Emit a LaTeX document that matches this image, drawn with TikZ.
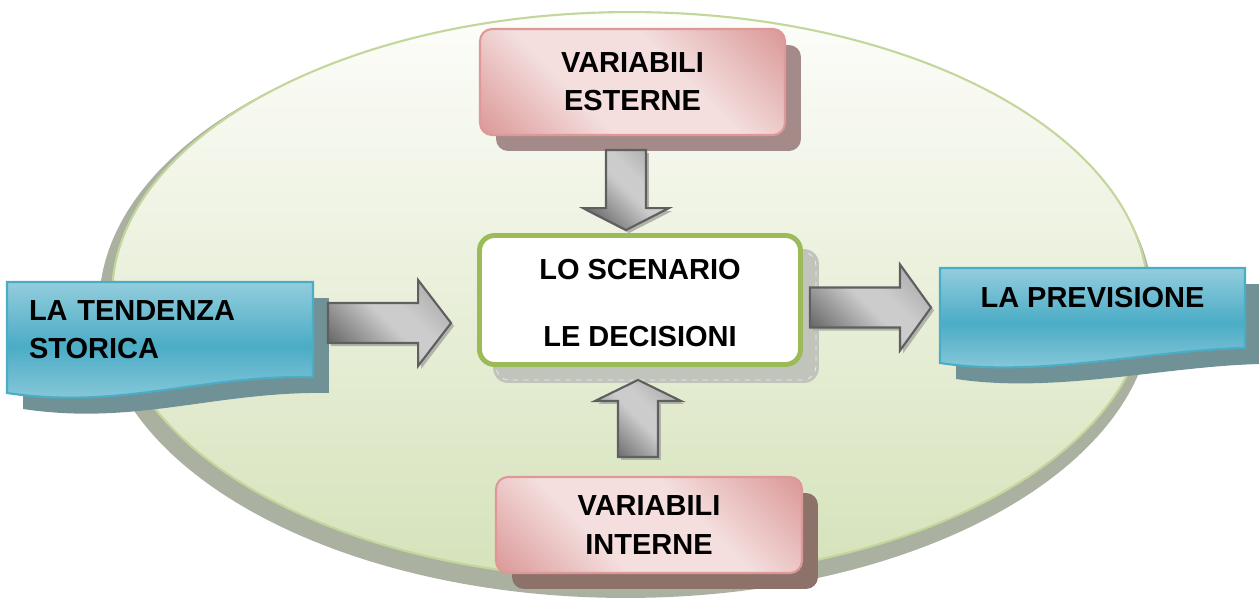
\documentclass[tikz,border=0pt]{standalone}
\usepackage{fontspec}
\setmainfont{Liberation Sans}
\usetikzlibrary{calc,shadows}

% palette
\definecolor{ellTop}{RGB}{253,253,250}
\definecolor{ellBot}{RGB}{213,226,186}
\definecolor{ellLine}{RGB}{195,214,155}
\definecolor{ellShadow}{RGB}{170,177,160}
\definecolor{pkLight}{RGB}{244,222,222}
\definecolor{pkDark}{RGB}{217,150,148}
\definecolor{pkLine}{RGB}{222,152,152}
\definecolor{pkShadowA}{RGB}{165,138,138}
\definecolor{pkShadowB}{RGB}{140,114,104}
\definecolor{blLight}{RGB}{147,205,221}
\definecolor{blDark}{RGB}{75,172,198}
\definecolor{blShadow}{RGB}{112,146,150}
\definecolor{grLine}{RGB}{155,187,89}
\definecolor{ctShadow}{RGB}{192,196,186}
\definecolor{arLight}{RGB}{204,204,204}
\definecolor{arMid}{RGB}{150,150,150}
\definecolor{arDark}{RGB}{100,100,100}
\definecolor{arLine}{RGB}{95,95,95}
\definecolor{arShadow}{RGB}{178,180,172}

% fills
\pgfdeclareverticalshading{bluewave}{100bp}{color(0bp)=(blLight); color(25bp)=(blLight); color(50bp)=(blDark); color(75bp)=(blLight); color(100bp)=(blLight)}
\pgfdeclarehorizontalshading{pinkband}{100bp}{color(0bp)=(pkDark); color(14bp)=(pkDark); color(38bp)=(pkLight); color(60bp)=(pkLight); color(86bp)=(pkDark); color(100bp)=(pkDark)}
\pgfdeclarehorizontalshading{arrowband}{100bp}{color(0bp)=(arDark); color(22bp)=(arDark); color(50bp)=(arLight); color(60bp)=(arLight); color(90bp)=(arMid); color(100bp)=(arMid)}

\pgfdeclarelayer{ellipselayer}
\pgfdeclarelayer{wavelayer}
\pgfsetlayers{ellipselayer,wavelayer,main}

\newcommand\boxfont{\fontsize{16.5}{21.5}\selectfont\bfseries}

\tikzset{
  lbl/.style={font=\boxfont, text=black, align=center, inner sep=0pt},
  pinkbox/.style={lbl, draw=pkLine, line width=1.2pt, rounded corners=0.24cm,
    shading=pinkband, shading angle=45},
  wavefill/.style={draw=blDark, line width=1.2pt, shading=bluewave,
    drop shadow={shadow xshift=0.32cm, shadow yshift=-0.32cm, fill=blShadow, opacity=1}},
  arrowbody/.style={draw=arLine, line width=1.2pt, line join=miter,
    shading=arrowband, shading angle=45,
    drop shadow={shadow xshift=0.06cm, shadow yshift=-0.06cm, fill=arShadow, opacity=1}}
}

% block arrow from tail #1 to tip #2 with head length #3
\newcommand\blockarrow[3]{%
  \path[arrowbody] let \p1=(#1), \p2=(#2),
    \n1={veclen(\x2-\x1,\y2-\y1)}, \n2={(\x2-\x1)/\n1}, \n3={(\y2-\y1)/\n1} in
    ({\x1-0.4cm*\n3},{\y1+0.4cm*\n2})
    -- ({\x2-#3*\n2-0.4cm*\n3},{\y2-#3*\n3+0.4cm*\n2})
    -- ({\x2-#3*\n2-0.86cm*\n3},{\y2-#3*\n3+0.86cm*\n2})
    -- (\x2,\y2)
    -- ({\x2-#3*\n2+0.86cm*\n3},{\y2-#3*\n3-0.86cm*\n2})
    -- ({\x2-#3*\n2+0.4cm*\n3},{\y2-#3*\n3-0.4cm*\n2})
    -- ({\x1+0.4cm*\n3},{\y1-0.4cm*\n2}) -- cycle;}

\begin{document}
\begin{tikzpicture}[x=0.02cm, y=-0.02cm]
\useasboundingbox (0,0) rectangle (1259,609);

% backdrop ellipse with its shadow
\begin{pgfonlayer}{ellipselayer}
  \fill[ellShadow] (626,306) ellipse [x radius=10.54cm, y radius=5.84cm];
  \draw[ellLine, line width=1.2pt, top color=ellTop, bottom color=ellBot]
    (630,295.5) ellipse [x radius=10.36cm, y radius=5.67cm];
\end{pgfonlayer}

% text nodes of the two wave banners
\node[lbl, align=left, text width=5.24cm, inner xsep=0.44cm, minimum height=1.9cm, outer sep=0pt]
  (TS) at (160,329.5) {LA TENDENZA\\STORICA};
\node[lbl, minimum width=6.1cm, minimum height=1.6cm, text depth=0.44cm, outer sep=0pt]
  (PR) at (1092.5,308) {LA PREVISIONE};

% rounded boxes
\node[pinkbox, minimum width=6.1cm, minimum height=2.12cm,
  drop shadow={shadow xshift=0.32cm, shadow yshift=-0.32cm, fill=pkShadowA, opacity=1}]
  (ES) at (632.5,82) {VARIABILI\\ESTERNE};
\node[pinkbox, minimum width=6.12cm, minimum height=1.92cm,
  drop shadow={shadow xshift=0.32cm, shadow yshift=-0.32cm, fill=pkShadowB, opacity=1}]
  (VI) at (649,525) {VARIABILI\\[1pt]INTERNE};
\node[lbl, draw=grLine, line width=2.8pt, fill=white, rounded corners=0.3cm,
  minimum width=6.42cm, minimum height=2.58cm]
  (SC) at (640,300) {\rule{0pt}{0.52cm}LO SCENARIO\\[17pt]LE DECISIONI};

\begin{pgfonlayer}{wavelayer}
  % banners
  \path[wavefill] (TS.north west) -- (TS.north east) -- (TS.south east)
    .. controls ($(TS.south east)+(-113,-2)$) and ($(TS.south west)+(113,33)$)
    .. ($(TS.south west)+(0,16)$) -- cycle;
  \path[wavefill] (PR.north west) -- (PR.north east) -- (PR.south east)
    .. controls ($(PR.south east)+(-95,2)$) and ($(PR.south west)+(100,30)$)
    .. ($(PR.south west)+(0,15)$) -- cycle;
  % shadow of the central box
  \fill[ctShadow, rounded corners=0.3cm]
    ($(SC.south west)+(16,16)$) rectangle ($(SC.north east)+(16,16)$);
  \draw[white, dashed, line width=0.4pt, opacity=0.7, rounded corners=0.26cm]
    ($(SC.south west)+(19,13)$) rectangle ($(SC.north east)+(13,19)$);
\end{pgfonlayer}

% arrow ends
\coordinate (aLt) at ($(TS.east)+(15,-6.5)$);
\coordinate (aLh) at ($(SC.west)+(-26,23)$);
\coordinate (aRt) at ($(SC.east)+(7,7.5)$);
\coordinate (aRh) at ($(PR.west)+(-9,-0.5)$);
\coordinate (aTt) at ($(ES.south)+(-6.5,14)$);
\coordinate (aTh) at ($(SC.north)+(-14,-3)$);
\coordinate (aBt) at ($(VI.north)+(-11,-19)$);
\coordinate (aBh) at ($(SC.south)+(-2,13)$);

\blockarrow{aLt}{aLh}{0.66cm}
\blockarrow{aRt}{aRh}{0.62cm}
\blockarrow{aTt}{aTh}{0.44cm}
\blockarrow{aBt}{aBh}{0.42cm}
\end{tikzpicture}
\end{document}
